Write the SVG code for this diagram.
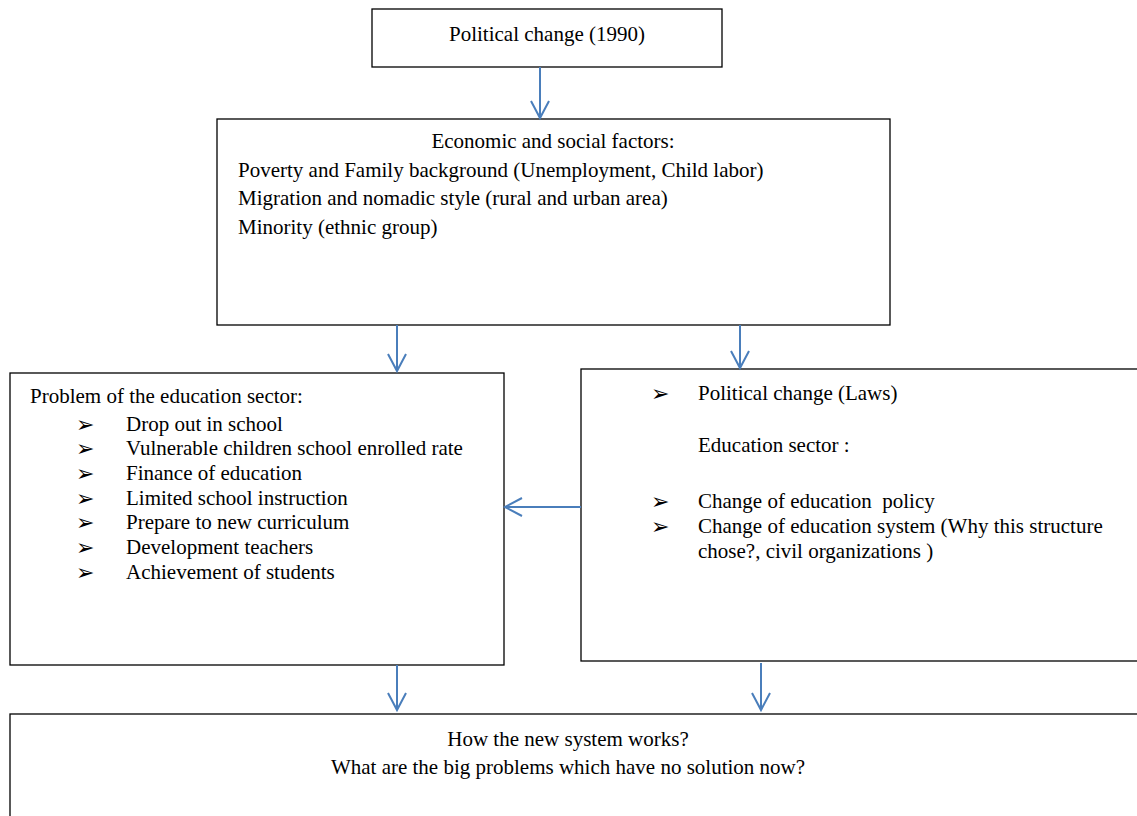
<svg xmlns="http://www.w3.org/2000/svg" width="1137" height="816" viewBox="0 0 1137 816">
<style>
.box{fill:#fff;stroke:#000;stroke-width:1.3}
.t{font-family:"Liberation Serif","Times New Roman",serif;font-size:21px;fill:#000}
.c{text-anchor:middle}
.b{font-family:"DejaVu Sans",sans-serif;font-size:22px;fill:#000}
.con{stroke:#4a7ebb;stroke-width:2;fill:none;marker-end:url(#arr)}
</style>
<defs>
<marker id="arr" markerUnits="userSpaceOnUse" markerWidth="22" markerHeight="22" refX="18" refY="10" orient="auto" viewBox="0 0 22 22">
<path d="M1,1 L18,10 L1,19" fill="none" stroke="#4a7ebb" stroke-width="2"/>
</marker>
</defs>
<rect width="1137" height="816" fill="#fff"/>
<g id="n1">
<rect class="box" x="372" y="9" width="350" height="58"/>
<text class="t c" x="547" y="41">Political change (1990)</text>
</g>
<g id="n2">
<rect class="box" x="217" y="119" width="673" height="206"/>
<text class="t c" x="553" y="148">Economic and social factors:</text>
<text class="t" x="238" y="177">Poverty and Family background (Unemployment, Child labor)</text>
<text class="t" x="238" y="205">Migration and nomadic style (rural and urban area)</text>
<text class="t" x="238" y="234">Minority (ethnic group)</text>
</g>
<g id="n3">
<rect class="box" x="10" y="373" width="494" height="292"/>
<text class="t" x="30" y="403">Problem of the education sector:</text>
<text class="b" x="76" y="432">➢</text><text class="t" x="126" y="431">Drop out in school</text>
<text class="b" x="76" y="456">➢</text><text class="t" x="126" y="455">Vulnerable children school enrolled rate</text>
<text class="b" x="76" y="481">➢</text><text class="t" x="126" y="480">Finance of education</text>
<text class="b" x="76" y="506">➢</text><text class="t" x="126" y="505">Limited school instruction</text>
<text class="b" x="76" y="530">➢</text><text class="t" x="126" y="529">Prepare to new curriculum</text>
<text class="b" x="76" y="555">➢</text><text class="t" x="126" y="554">Development teachers</text>
<text class="b" x="76" y="580">➢</text><text class="t" x="126" y="579">Achievement of students</text>
</g>
<g id="n4">
<rect class="box" x="581" y="369" width="560" height="292"/>
<text class="b" x="651" y="401">➢</text><text class="t" x="698" y="400">Political change (Laws)</text>
<text class="t" x="698" y="452">Education sector :</text>
<text class="b" x="651" y="509">➢</text><text class="t" x="698" y="508" xml:space="preserve">Change of education  policy</text>
<text class="b" x="651" y="534">➢</text><text class="t" x="698" y="533">Change of education system (Why this structure</text>
<text class="t" x="698" y="558">chose?, civil organizations )</text>
</g>
<g id="n5">
<rect class="box" x="10" y="714" width="1140" height="120"/>
<text class="t c" x="568" y="746">How the new system works?</text>
<text class="t c" x="568" y="774">What are the big problems which have no solution now?</text>
</g>
<g id="connectors">
<line class="con" x1="540" y1="67" x2="540" y2="118"/>
<line class="con" x1="397" y1="325" x2="397" y2="371"/>
<line class="con" x1="740" y1="325" x2="740" y2="368"/>
<line class="con" x1="581" y1="507" x2="505" y2="507"/>
<line class="con" x1="397" y1="665" x2="397" y2="710"/>
<line class="con" x1="761" y1="663" x2="761" y2="710"/>
</g>
</svg>
